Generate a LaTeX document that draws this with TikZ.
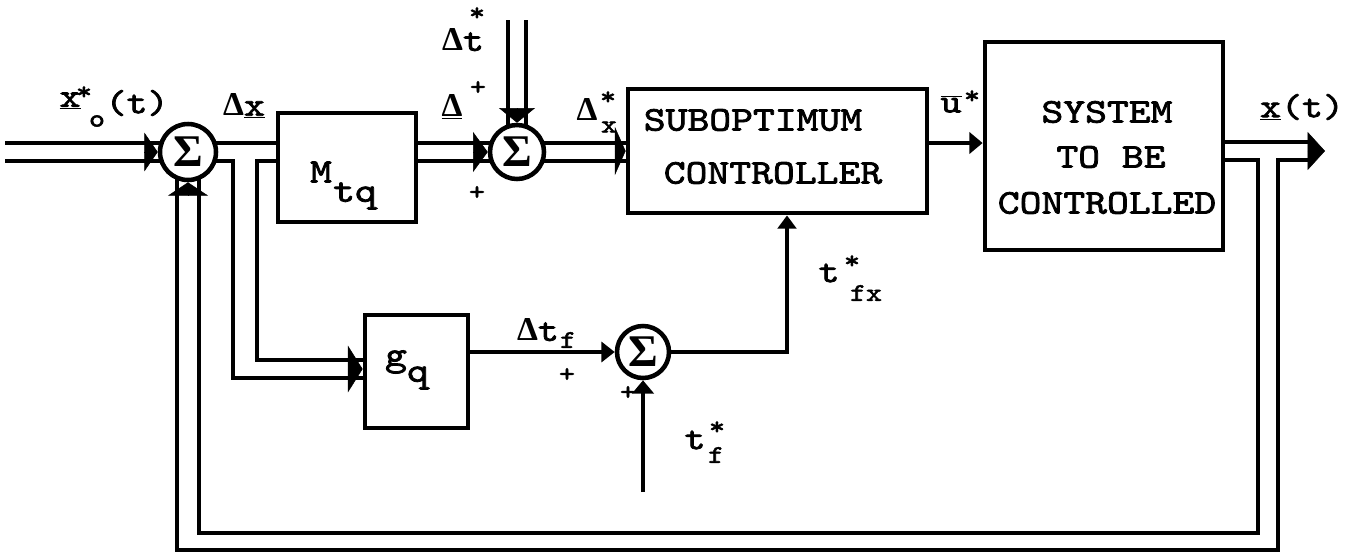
\documentclass[tikz,border=0pt]{standalone}
\usepackage{fontspec}
\newfontfamily\tw{lmmono10-regular.otf}[FakeBold=2.2,FakeStretch=1.2]
\newfontfamily\gr{Liberation Serif}
\usetikzlibrary{arrows.meta,calc}
\begin{document}
\begin{tikzpicture}[x=0.75pt,y=-0.75pt,
  wire/.style={line width=3.2pt},
  blk/.style={draw, line width=3.6pt, inner sep=0pt},
  sum/.style={draw, circle, line width=3.4pt, inner sep=0pt, font=\gr\bfseries\fontsize{34}{34}\selectfont},
  btxt/.style={inner sep=0pt, font=\tw\fontsize{26}{30}\selectfont},
  lbl/.style={inner sep=0pt, font=\tw\fontsize{25}{26}\selectfont},
  sml/.style={inner sep=0pt, font=\tw\fontsize{19}{20}\selectfont},
  blob/.style={line width=0.4pt, -{Triangle[#1]}},
  tip/.style={-{Triangle[width=#1, length=10pt]}},
]
\newcommand{\dl}{{\gr\bfseries Δ}}
\path[use as bounding box] (0,0) rectangle (1363,558);
% blocks
\node[blk, minimum width=103.5pt, minimum height=81.75pt] (mtq) at (347,167.5) {};
\node[blk, minimum width=224.25pt, minimum height=93pt] (ctrl) at (777.5,151) {};
\node[blk, minimum width=178.5pt, minimum height=156pt] (sys) at (1104,146) {};
\node[blk, minimum width=77.25pt, minimum height=84.75pt] (gq) at (416.5,371.5) {};
% summing junctions
\node[sum, minimum size=42pt] (s1) at (188,152) {Σ};
\node[sum, minimum size=40.5pt] (s2) at (517,152) {Σ};
\node[sum, minimum size=39pt] (s3) at (643,352) {Σ};
% block texts
\node[btxt] (mtqM) at (321,172) {M};
\node[btxt] (mtqS) at (355,196) {tq};
\node[btxt] (gqG) at (396,362) {g};
\node[btxt] (gqS) at (418,378) {q};
\node[btxt] (ctrlA) at (753,120) {SUBOPTIMUM};
\node[btxt] (ctrlB) at (773,173) {CONTROLLER};
\node[btxt] (sysA) at (1107,112) {SYSTEM};
\node[btxt] (sysB) at (1111,157) {TO BE};
\node[btxt] (sysC) at (1107,203) {CONTROLLED};
% labels
\node[lbl] (x0) at (70,101) {\underline{x}};
\node[sml] (x0s) at (84,93) {*};
\node[sml] (x0o) at (97,121) {o};
\node[lbl] (x0t) at (137,103) {(t)};
\node[lbl] (dx) at (244,106) {\dl\underline{x}};
\node[lbl] (dt) at (463,40) {\dl t};
\node[sml] (dts) at (477,14) {*};
\node[lbl] (dp) at (452,107) {\underline{\dl}};
\node[sml] (dps) at (478,88) {+};
\node[sml] (pl1) at (477,193) {+};
\node[lbl] (dxa) at (587,109) {\dl};
\node[sml] (dxb) at (608,98) {*};
\node[sml] (dxc) at (609,127) {x};
\node[lbl] (ub) at (951,104) {$\overline{\mbox{u}}$};
\node[sml] (ubs) at (972,97) {*};
\node[lbl] (xt) at (1302,107) {\underline{x}(t)};
\node[lbl] (dtf) at (538,330) {\dl t};
\node[sml] (dtfs) at (568,340) {f};
\node[sml] (pl2) at (567,375) {+};
\node[sml] (pl3) at (628,393) {+};
\node[lbl] (tfx) at (829,273) {t};
\node[sml] (tfx1) at (852,262) {*};
\node[sml] (tfx2) at (866,293) {fx};
\node[lbl] (tf) at (695,440) {t};
\node[sml] (tf1) at (717,428) {*};
\node[sml] (tf2) at (716,455) {f};
% input double line
\coordinate (in) at (5,152);
\draw[wire] ($(in)+(0,-9)$) -- ($(s1)+(-25,-9)$);
\draw[wire] ($(in)+(0,9)$) -- ($(s1)+(-25,9)$);
\draw[blob={width=29pt,length=10pt}] ($(s1.west)+(-13.3,0)$) -- (s1.west);
% sigma1 -> Mtq and branch to g_q
\coordinate (a1) at ($(s1)+(26,-9)$);
\draw[wire] (a1) -- (a1 -| mtq.west);
\coordinate (a2) at ($(s1)+(25,9)$);
\coordinate (a3) at (233,378);
\draw[wire] (a2) -| (a3) -- (a3 -| gq.west);
\coordinate (a4) at (257,360);
\draw[wire] (mtq.west |- a2) -| (a4) -- (a4 -| gq.west);
\draw[blob={width=35pt,length=11pt}] ($(gq.west)+(-14.7,-2.5)$) -- ($(gq.west)+(0,-2.5)$);
% Mtq -> sigma2
\coordinate (b1) at ($(s2)+(-25,-9)$);
\coordinate (b2) at ($(s2)+(-25,9)$);
\draw[wire] (b1 -| mtq.east) -- (b1);
\draw[wire] (b2 -| mtq.east) -- (b2);
\draw[blob={width=30pt,length=11pt}] ($(s2.west)+(-14.7,0)$) -- (s2.west);
% Delta_t input
\coordinate (d0) at (517,20);
\draw[wire] ($(d0)+(-9,0)$) -- ($(s2)+(-9,-25)$);
\draw[wire] ($(d0)+(9,0)$) -- ($(s2)+(9,-25)$);
\draw[blob={width=27pt,length=11pt}] ($(s2.north)+(0,-14.7)$) -- (s2.north);
% sigma2 -> controller
\coordinate (c1) at ($(s2)+(25,-9)$);
\coordinate (c2) at ($(s2)+(25,9)$);
\draw[wire] (c1) -- (c1 -| ctrl.west);
\draw[wire] (c2) -- (c2 -| ctrl.west);
\draw[blob={width=36pt,length=8pt}] ($(ctrl.west)+(-10.7,0)$) -- (ctrl.west);
% controller -> system
\coordinate (e1) at (927,143);
\draw[wire, tip=16pt] (e1 -| ctrl.east) -- (e1 -| sys.west);
% output and feedback loop
\coordinate (out) at (1325,151);
\coordinate (f0) at (1310,142);
\coordinate (f1) at (1258,160);
\coordinate (f2) at (1278,160);
\coordinate (f3) at (1310,160);
\coordinate (g1) at (1258,533);
\coordinate (g2) at (199,533);
\coordinate (h1) at (1278,550);
\coordinate (h2) at (177,550);
\draw[wire] (f0 -| sys.east) -- (f0);
\draw[wire] (f1 -| sys.east) -- (f1) -- (g1) -- (g2) -- ($(s1)+(11,25)$);
\draw[wire] (f3) -- (f2) -- (h1) -- (h2) -- ($(s1)+(-11,25)$);
\draw[blob={width=28.5pt,length=13pt}] ($(out)+(-17.3,0)$) -- (out);
\draw[blob={width=30pt,length=10pt}] ($(s1.south)+(0,13.3)$) -- (s1.south);
% g_q -> sigma3 -> controller
\draw[wire, tip=15pt] (gq.east |- s3) -- (s3.west);
\coordinate (k1) at (787,352);
\draw[wire, tip=14pt] (s3.east) -| (k1 |- ctrl.south);
\coordinate (tfin) at (643,492);
\draw[wire, tip=16pt] (tfin) -- (s3.south);
\end{tikzpicture}
\end{document}
